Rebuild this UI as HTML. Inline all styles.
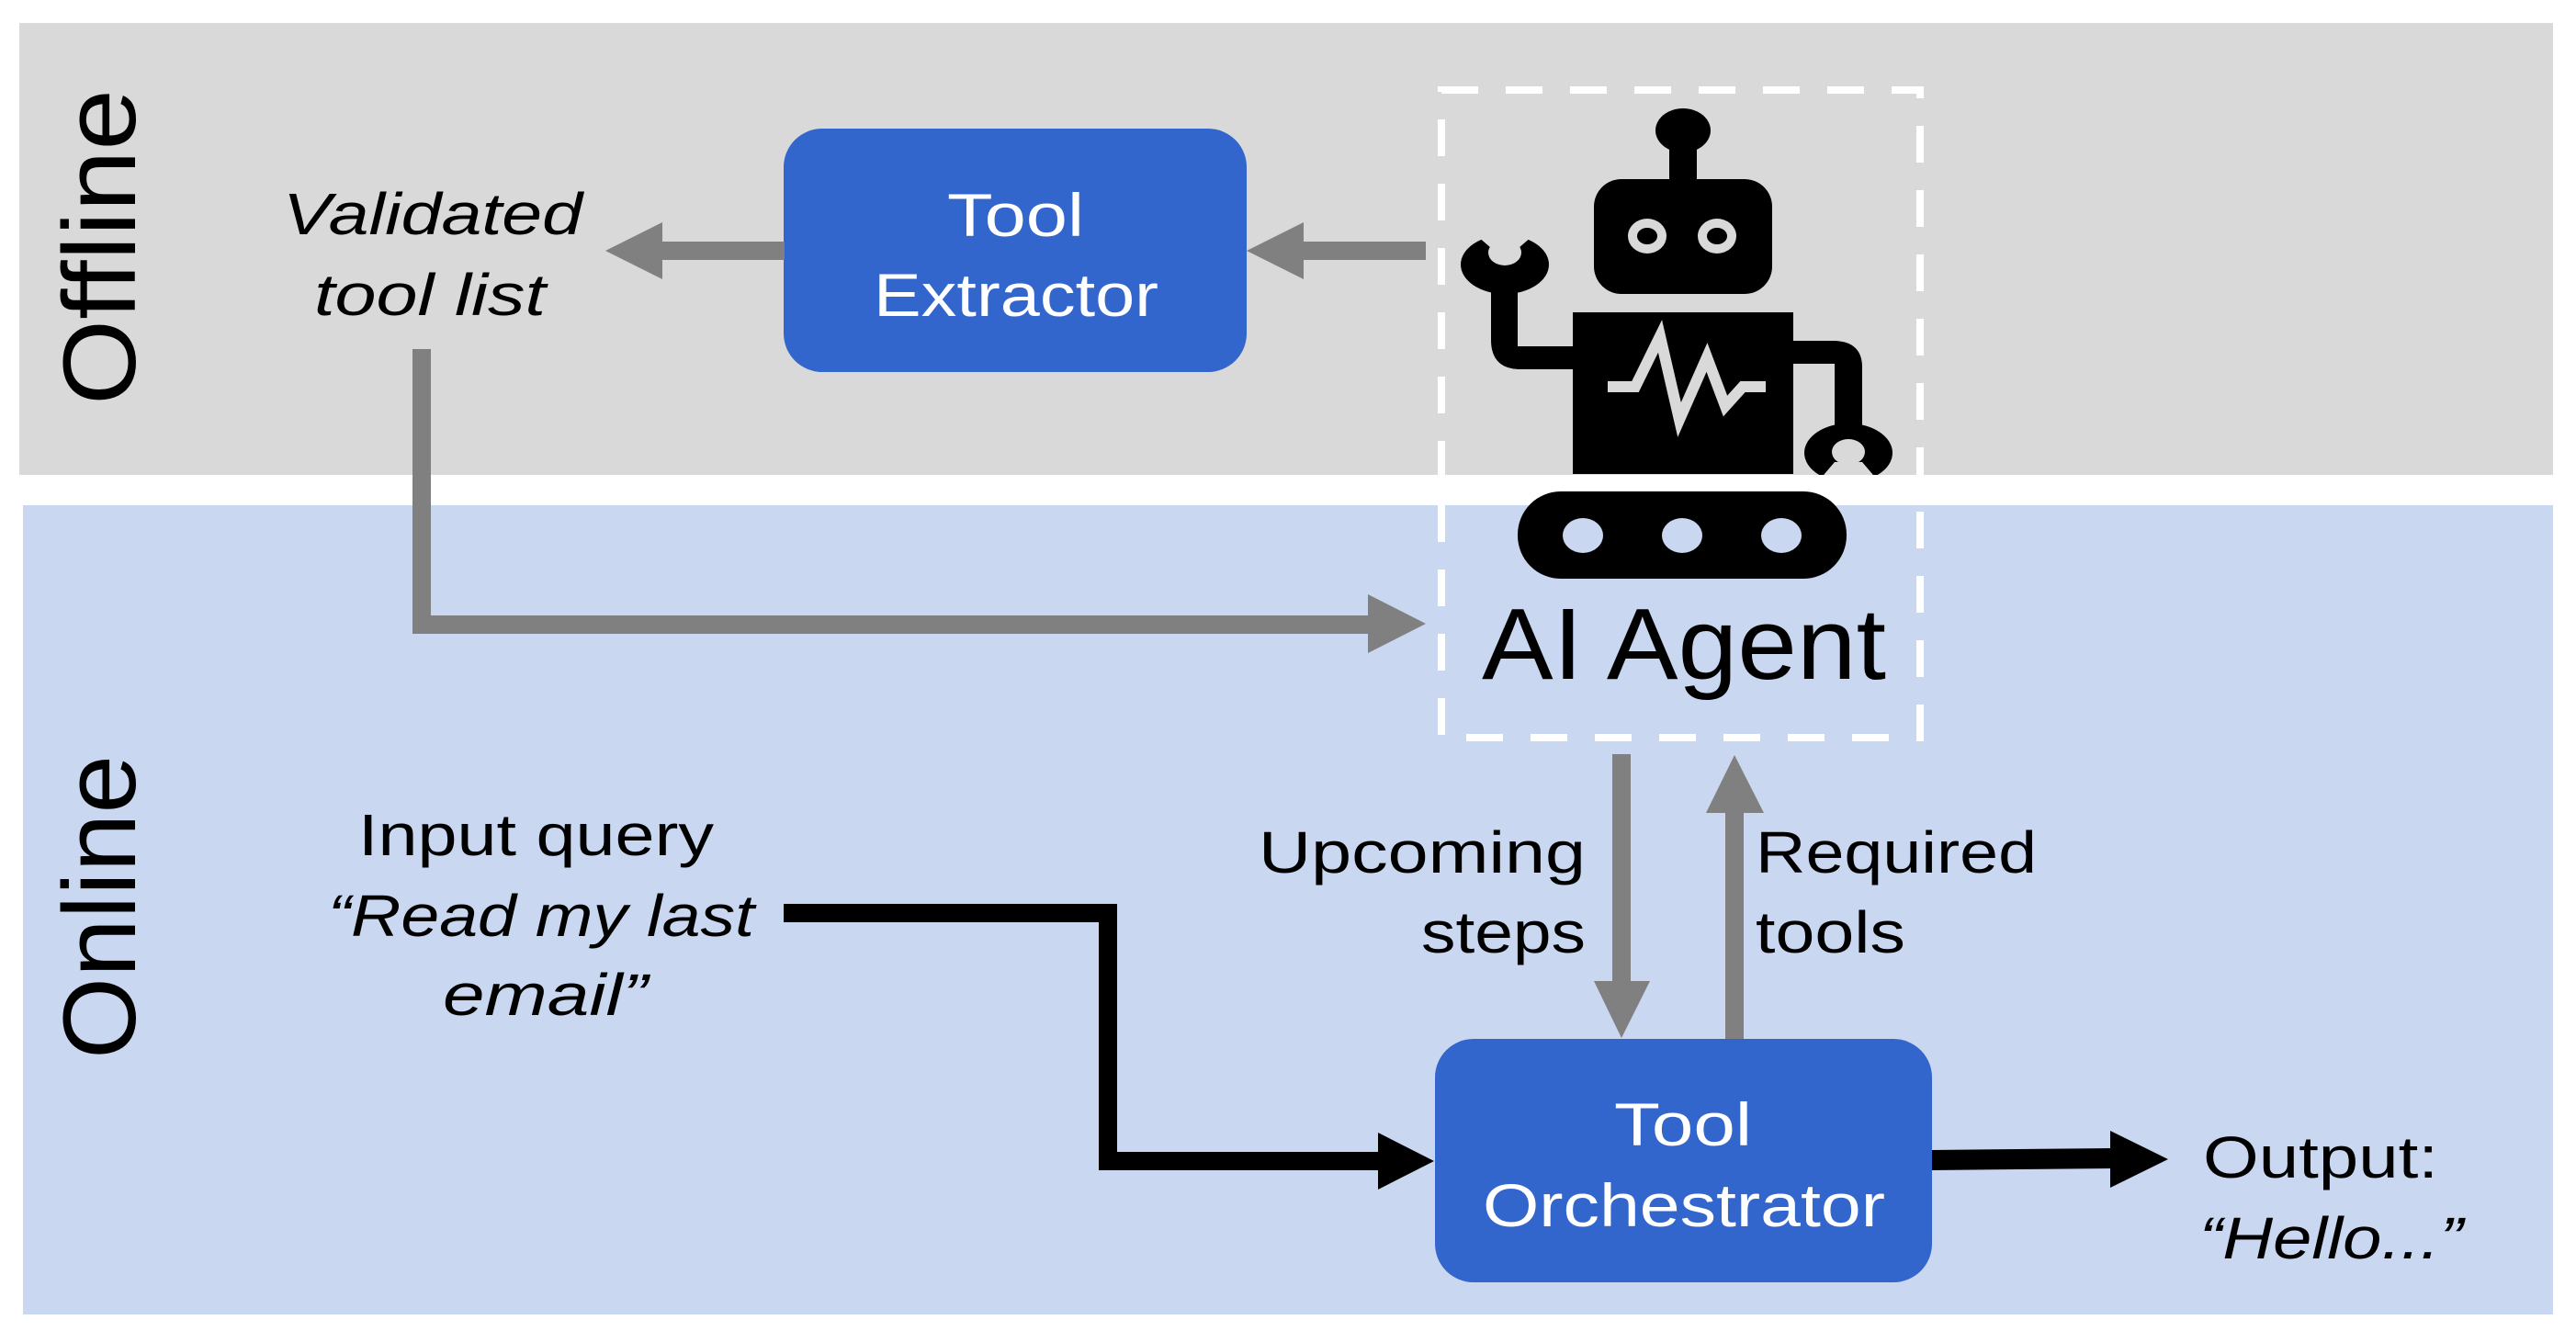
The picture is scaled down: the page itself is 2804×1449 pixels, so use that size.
<!DOCTYPE html>
<html><head><meta charset="utf-8"><style>html,body{margin:0;padding:0;background:#fff;}svg{display:block}</style></head>
<body>
<svg width="2804" height="1449" viewBox="0 0 2804 1449" xmlns="http://www.w3.org/2000/svg" font-family="Liberation Sans, sans-serif">
<rect x="0" y="0" width="2804" height="1449" fill="#fff"/>
<rect x="21" y="25" width="2758" height="492" fill="#d9d9d9"/>
<rect x="25" y="550" width="2754" height="881" fill="#c9d7f1"/>

<!-- side labels -->
<text transform="translate(147,441) rotate(-90)" font-size="112" textLength="344" lengthAdjust="spacingAndGlyphs" fill="#000">Offline</text>
<text transform="translate(147,1153) rotate(-90)" font-size="112" textLength="331" lengthAdjust="spacingAndGlyphs" fill="#000">Online</text>

<!-- Tool Extractor -->
<rect x="853" y="140" width="504" height="265" rx="42" fill="#3366cc"/>
<text x="1031" y="257" font-size="66" fill="#fff" textLength="149" lengthAdjust="spacingAndGlyphs">Tool</text>
<text x="951" y="344" font-size="66" fill="#fff" textLength="310" lengthAdjust="spacingAndGlyphs">Extractor</text>

<!-- Validated tool list -->
<text x="308" y="255" font-size="64" font-style="italic" textLength="326" lengthAdjust="spacingAndGlyphs">Validated</text>
<text x="342" y="343" font-size="64" font-style="italic" textLength="252" lengthAdjust="spacingAndGlyphs">tool list</text>

<!-- gray arrows offline -->
<rect x="720" y="263" width="134" height="20" fill="#808080"/>
<polygon points="659,273 721,242 721,304" fill="#808080"/>
<rect x="1418" y="263" width="134" height="20" fill="#808080"/>
<polygon points="1357,273 1419,242 1419,304" fill="#808080"/>

<!-- L connector -->
<polyline points="459,380 459,680 1492,680" fill="none" stroke="#808080" stroke-width="20"/>
<polygon points="1552,679 1489,647 1489,711" fill="#808080"/>

<!-- dashed box -->
<rect x="1569" y="98" width="521" height="705" fill="none" stroke="#fff" stroke-width="8" stroke-dasharray="40 30"/>

<!-- robot -->
<g fill="#000">
  <ellipse cx="1832" cy="142" rx="30" ry="24"/>
  <rect x="1817" y="160" width="30" height="40"/>
  <rect x="1735" y="195" width="194" height="125" rx="30"/>
  <ellipse cx="1793" cy="257" rx="21" ry="19" fill="#d9d9d9"/>
  <ellipse cx="1793" cy="257" rx="11" ry="9"/>
  <ellipse cx="1869" cy="257" rx="21" ry="19" fill="#d9d9d9"/>
  <ellipse cx="1869" cy="257" rx="11" ry="9"/>
  <rect x="1712" y="340" width="240" height="176"/>
  <polyline points="1750,421 1780,421 1807,366 1828,457 1858,389 1878,442 1897,421 1922,421" fill="none" stroke="#d9d9d9" stroke-width="12"/>
  <!-- left arm -->
  <path d="M1623,300 L1652,300 L1652,377 L1715,377 L1715,402 L1655,402 Q1623,402 1623,370 Z"/>
  <ellipse cx="1638" cy="288" rx="48" ry="32"/>
  <ellipse cx="1638" cy="275" rx="18" ry="14" fill="#d9d9d9"/>
  <polygon points="1600,250 1623,270 1653,270 1676,250" fill="#d9d9d9"/>
  <!-- right arm -->
  <path d="M1950,371 L1995,371 Q2027,371 2027,400 L2027,470 L1997,470 L1997,396 L1950,396 Z"/>
  <ellipse cx="2012" cy="493" rx="48" ry="32"/>
  <ellipse cx="2012" cy="492" rx="18" ry="14" fill="#d9d9d9"/>
  <polygon points="1974,530 1997,503 2027,503 2050,530" fill="#d9d9d9"/>
  <rect x="1960" y="517" width="100" height="14" fill="#fff"/>
  <!-- tracks -->
  <rect x="1652" y="535" width="358" height="95" rx="47"/>
  <ellipse cx="1723" cy="583" rx="22" ry="19" fill="#c9d7f1"/>
  <ellipse cx="1831" cy="583" rx="22" ry="19" fill="#c9d7f1"/>
  <ellipse cx="1939" cy="583" rx="22" ry="19" fill="#c9d7f1"/>
</g>
<text x="1613" y="739" font-size="110" textLength="440" lengthAdjust="spacingAndGlyphs">AI Agent</text>

<!-- vertical gray arrows -->
<rect x="1755" y="821" width="20" height="250" fill="#808080"/>
<polygon points="1735,1068 1796,1068 1765,1130" fill="#808080"/>
<rect x="1878" y="882" width="20" height="250" fill="#808080"/>
<polygon points="1857,885 1920,885 1888,822" fill="#808080"/>
<text x="1726" y="950" font-size="64" text-anchor="end" textLength="356" lengthAdjust="spacingAndGlyphs">Upcoming</text>
<text x="1726" y="1037" font-size="64" text-anchor="end" textLength="179" lengthAdjust="spacingAndGlyphs">steps</text>
<text x="1911" y="950" font-size="64" textLength="306" lengthAdjust="spacingAndGlyphs">Required</text>
<text x="1911" y="1037" font-size="64" textLength="163" lengthAdjust="spacingAndGlyphs">tools</text>

<!-- input query -->
<text x="390" y="931" font-size="64" textLength="387" lengthAdjust="spacingAndGlyphs">Input query</text>
<text x="357" y="1019" font-size="64" font-style="italic" textLength="464" lengthAdjust="spacingAndGlyphs">“Read my last</text>
<text x="482" y="1105" font-size="64" font-style="italic" textLength="223" lengthAdjust="spacingAndGlyphs">email”</text>

<!-- black connector -->
<polyline points="853,994 1206,994 1206,1264 1503,1264" fill="none" stroke="#000" stroke-width="20"/>
<polygon points="1561,1264 1500,1233 1500,1295" fill="#000"/>

<!-- Tool Orchestrator -->
<rect x="1562" y="1131" width="541" height="265" rx="42" fill="#3366cc"/>
<text x="1757" y="1247" font-size="66" fill="#fff" textLength="150" lengthAdjust="spacingAndGlyphs">Tool</text>
<text x="1614" y="1335" font-size="66" fill="#fff" textLength="438" lengthAdjust="spacingAndGlyphs">Orchestrator</text>

<!-- output arrow -->
<polygon points="2103,1252 2300,1250 2300,1272 2103,1274" fill="#000"/>
<polygon points="2360,1262 2297,1231 2297,1293" fill="#000"/>
<text x="2398" y="1282" font-size="64" textLength="256" lengthAdjust="spacingAndGlyphs">Output:</text>
<text x="2394" y="1370" font-size="64" font-style="italic" textLength="287" lengthAdjust="spacingAndGlyphs">“Hello...”</text>
</svg>
</body></html>
